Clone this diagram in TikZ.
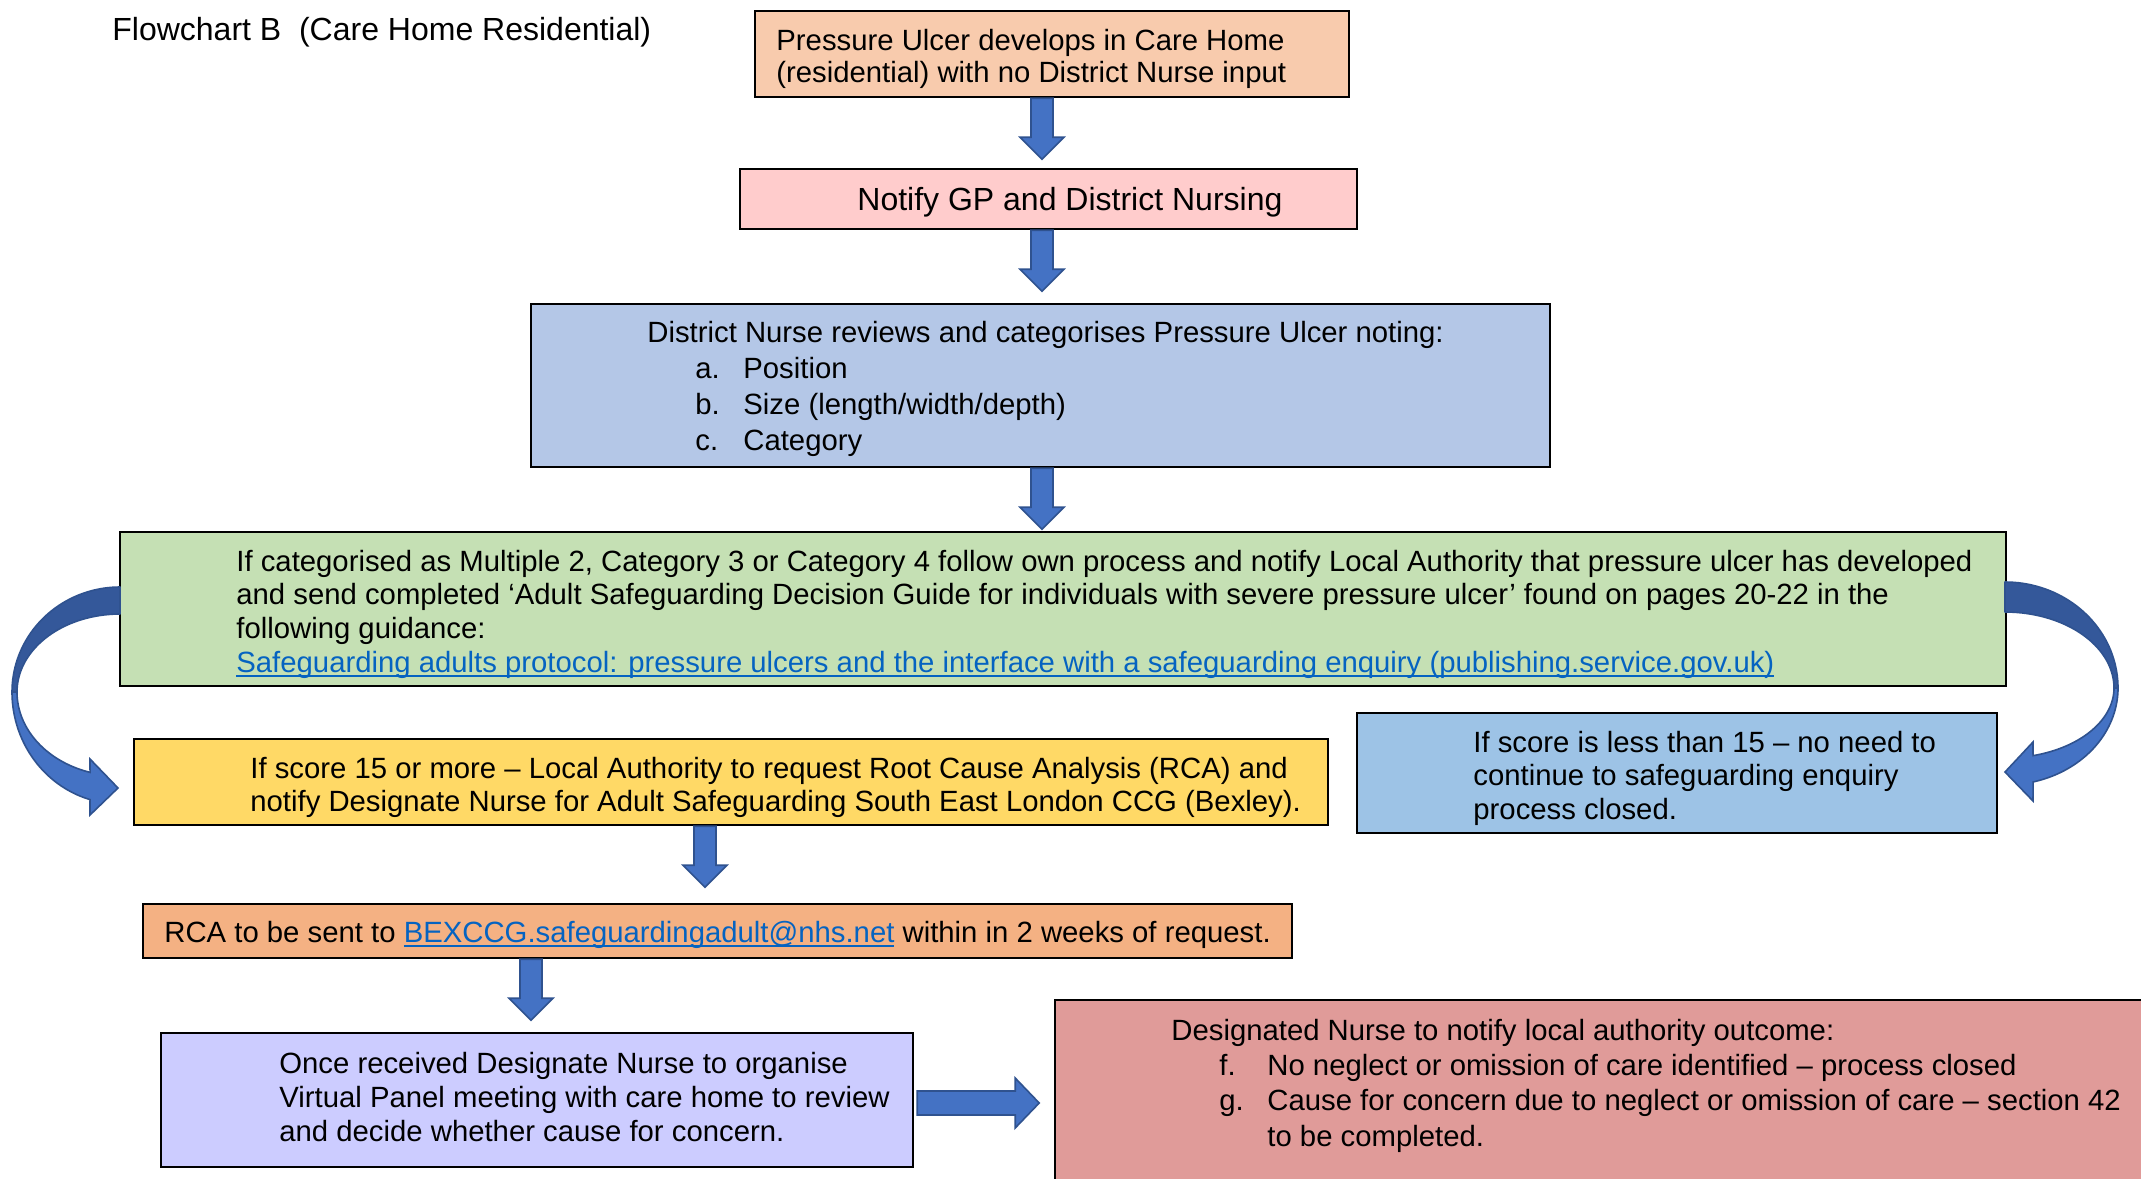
\documentclass[tikz,border=0pt]{standalone}
\usepackage{fontspec}
\setmainfont{Liberation Sans}
\usetikzlibrary{calc}
\definecolor{cPeach}{HTML}{F8CBAD}
\definecolor{cPink}{HTML}{FFCCCC}
\definecolor{cBlueA}{HTML}{B4C7E7}
\definecolor{cGreen}{HTML}{C5E0B4}
\definecolor{cYellow}{HTML}{FFD966}
\definecolor{cBlueB}{HTML}{9DC3E6}
\definecolor{cOrange}{HTML}{F4B183}
\definecolor{cLav}{HTML}{CCCCFF}
\definecolor{cRose}{HTML}{E09B99}
\definecolor{arrowblue}{HTML}{4472C4}
\definecolor{arrowdark}{HTML}{34589A}
\definecolor{arrowedge}{HTML}{2F528F}
\definecolor{linkblue}{HTML}{0563C1}
\newcommand\linkul[1]{\begingroup\setbox0=\hbox{#1}\rlap{\vrule width\wd0 height -1.3pt depth 2.3pt}\box0\endgroup}
\newcommand\lnk[1]{\textcolor{linkblue}{\linkul{#1}}}
\newcommand\itm[2]{\hspace*{24pt}\makebox[24pt][l]{#1}#2}
\begin{document}
\begin{tikzpicture}[x=0.5pt,y=-0.5pt,
  box/.style={draw=black, line width=1.2pt, inner sep=0pt, rectangle},
  txt/.style={inner sep=0pt, anchor=base west, font=\fontsize{14.65}{16.85}\selectfont},
  blockarrow/.style={fill=arrowblue, draw=arrowedge, line width=0.8pt, line join=miter},
  darkpart/.style={fill=arrowdark, draw=arrowedge, line width=0.8pt, line join=round}]
\fill[white] (0,0) rectangle (2141,1178);
\useasboundingbox (0,0) rectangle (2141,1178);

% boxes
\node[box, fill=cPeach,  minimum width=297pt,   minimum height=43pt]   (b1) at (1052,54) {};
\node[box, fill=cPink,   minimum width=308.5pt, minimum height=30pt]   (b2) at (1048.5,199) {};
\node[box, fill=cBlueA,  minimum width=509.5pt, minimum height=81.5pt] (b3) at (1040.5,385.5) {};
\node[box, fill=cGreen,  minimum width=943pt,   minimum height=77pt]   (b4) at (1063,609) {};
\node[box, fill=cYellow, minimum width=597pt,   minimum height=43pt]   (b5) at (731,782) {};
\node[box, fill=cBlueB,  minimum width=320pt,   minimum height=60pt]   (b6) at (1677,773) {};
\node[box, fill=cOrange, minimum width=574.5pt, minimum height=27pt]   (b7) at (717.5,931) {};
\node[box, fill=cLav,    minimum width=376pt,   minimum height=67pt]   (b8) at (537,1100) {};
\node[box, fill=cRose,   minimum width=557.5pt, minimum height=100pt]  (b9) at (1612.5,1100) {};

% texts
\node[txt, font=\fontsize{16}{19}\selectfont] (title) at (112,40) {Flowchart B\ \ (Care Home Residential)};
\node[txt, font=\fontsize{14.65}{16}\selectfont] (t1) at (776,50) {\begin{tabular}[t]{@{}l@{}}Pressure Ulcer develops in Care Home\\(residential) with no District Nurse input\end{tabular}};
\node[txt, font=\fontsize{16}{19}\selectfont] (t2) at (857,210) {Notify GP and District Nursing};
\node[txt, font=\fontsize{14.65}{18}\selectfont] (t3) at (647,342) {\begin{tabular}[t]{@{}l@{}}District Nurse reviews and categorises Pressure Ulcer noting:\\\itm{a.}{Position}\\\itm{b.}{Size (length/width/depth)}\\\itm{c.}{Category}\end{tabular}};
\node[txt] (t4) at (236,571) {\begin{tabular}[t]{@{}l@{}}If categorised as Multiple 2, Category 3 or Category 4 follow own process and notify Local Authority that pressure ulcer has developed\\and send completed ‘Adult Safeguarding Decision Guide for individuals with severe pressure ulcer’ found on pages 20-22 in the\\following guidance:\\\lnk{Safeguarding adults protocol: pressure ulcers and the interface with a safeguarding enquiry (publishing.service.gov.uk)}\end{tabular}};
\node[txt, font=\fontsize{14.65}{16.5}\selectfont] (t5) at (250,778) {\begin{tabular}[t]{@{}l@{}}If score 15 or more – Local Authority to request Root Cause Analysis (RCA) and\\notify Designate Nurse for Adult Safeguarding South East London CCG (Bexley).\end{tabular}};
\node[txt, font=\fontsize{14.65}{16.75}\selectfont] (t6) at (1473,752) {\begin{tabular}[t]{@{}l@{}}If score is less than 15 – no need to\\continue to safeguarding enquiry\\process closed.\end{tabular}};
\node[txt] (t7) at (164,942) {RCA to be sent to \lnk{BEXCCG.safeguardingadult@nhs.net} within in 2 weeks of request.};
\node[txt, font=\fontsize{14.65}{17}\selectfont] (t8) at (279,1073) {\begin{tabular}[t]{@{}l@{}}Once received Designate Nurse to organise\\Virtual Panel meeting with care home to review\\and decide whether cause for concern.\end{tabular}};
\node[txt, font=\fontsize{14.65}{17.7}\selectfont] (t9) at (1171,1040) {\begin{tabular}[t]{@{}l@{}}Designated Nurse to notify local authority outcome:\\\itm{f.}{No neglect or omission of care identified – process closed}\\\itm{g.}{Cause for concern due to neglect or omission of care – section 42}\\\hspace*{48pt}to be completed.\end{tabular}};

% arrow axes
\coordinate (ax1) at (1042,0);
\coordinate (ax4) at (705,0);
\coordinate (ax5) at (531,0);
\coordinate (ay6) at (0,1103);

% straight block arrows
\foreach \from/\ax in {b1/ax1, b2/ax1, b3/ax1, b5/ax4, b7/ax5}{
  \begin{scope}[shift={(\ax |- \from.south)}]
    \filldraw[blockarrow] (-11,0) -- (-11,39) -- (-22,39) -- (0,61) -- (22,39) -- (11,39) -- (11,0) -- cycle;
  \end{scope}
}
\begin{scope}[shift={(b8.east |- ay6)}]
  \filldraw[blockarrow] (3,-12) -- (101,-12) -- (101,-25) -- (125,0) -- (101,25) -- (101,12) -- (3,12) -- cycle;
\end{scope}

% curved arrow, left (b4 -> b5)
\filldraw[darkpart] plot[domain=-90:-180, samples=40, variable=\t] ({120+108*cos(\t)},{692+105*sin(\t)})
  -- plot[domain=-180:-90, samples=40, variable=\t] ({120+103*cos(\t)},{692+78*sin(\t)}) -- cycle;
\filldraw[blockarrow] plot[domain=180:106.1, samples=40, variable=\t] ({120+108*cos(\t)},{692+112*sin(\t)})
  -- (90,815) -- (118,788) -- (90,759)
  -- plot[domain=106.9:180, samples=40, variable=\t] ({120+103*cos(\t)},{692+84*sin(\t)}) -- cycle;

% curved arrow, right (b4 -> b6)
\filldraw[darkpart] plot[domain=-90:0, samples=40, variable=\t] ({2005+113*cos(\t)},{688+106*sin(\t)})
  -- plot[domain=0:-90, samples=40, variable=\t] ({2005+109*cos(\t)},{688+76*sin(\t)}) -- cycle;
\filldraw[blockarrow] plot[domain=0:75.6, samples=40, variable=\t] ({2005+113*cos(\t)},{688+97*sin(\t)})
  -- (2033,801) -- (2005,772) -- (2033,742)
  -- plot[domain=75.1:0, samples=40, variable=\t] ({2005+109*cos(\t)},{688+70*sin(\t)}) -- cycle;
\end{tikzpicture}
\end{document}
